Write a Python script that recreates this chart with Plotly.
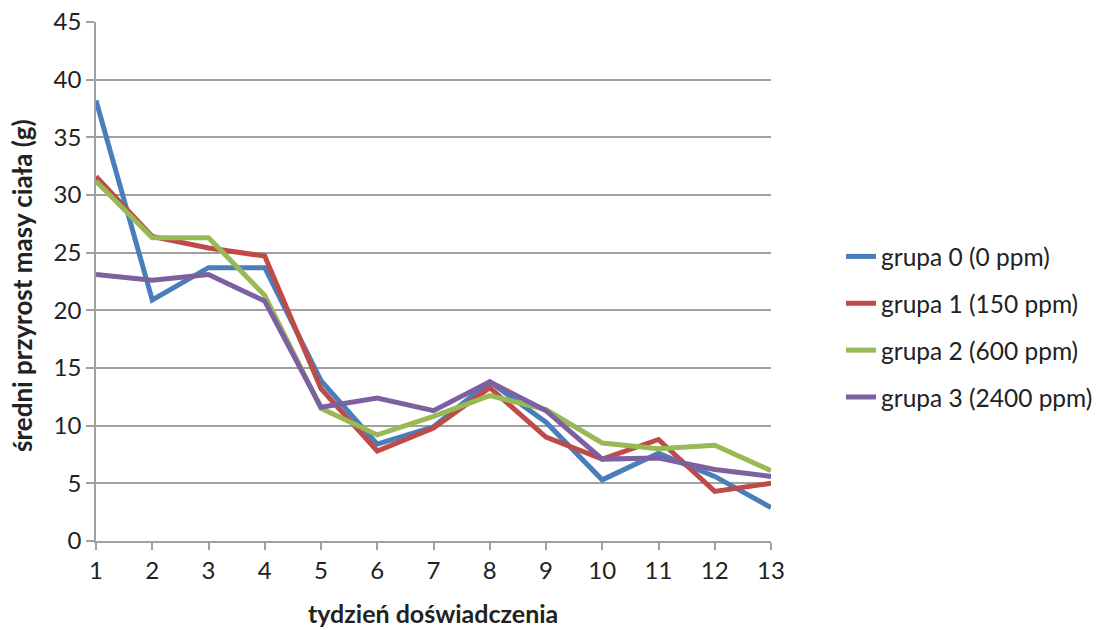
import plotly.graph_objects as go

weeks = list(range(1, 14))
series_names = ["grupa 0 (0 ppm)", "grupa 1 (150 ppm)", "grupa 2 (600 ppm)", "grupa 3 (2400 ppm)"]
grupa0 = [38.2, 20.9, 23.7, 23.7, 13.9, 8.4, 9.9, 13.8, 10.3, 5.3, 7.6, 5.6, 2.9]
grupa1 = [31.6, 26.4, 25.4, 24.7, 13.2, 7.8, 9.8, 13.3, 9.0, 7.1, 8.8, 4.3, 5.0]
grupa2 = [31.2, 26.3, 26.3, 21.3, 11.5, 9.2, 10.8, 12.6, 11.4, 8.5, 8.0, 8.3, 6.1]
grupa3 = [23.1, 22.6, 23.1, 20.8, 11.6, 12.4, 11.3, 13.8, 11.3, 7.1, 7.2, 6.2, 5.6]
colors = ["#4A7EBB", "#BE4B48", "#98B954", "#7D60A0"]
y_ticks = [0, 5, 10, 15, 20, 25, 30, 35, 40, 45]

FONT = "Lato, Carlito, 'Open Sans', sans-serif"
FS = 24

W, H = 1099, 630
PL, PR, PT, PB = 96, 771, 22, 541  # plot area in page pixels
L, R, T, B = PL, W - PR, PT, H - PB
PW = PR - PL
PH = PB - PT

fig = go.Figure()
for i, (name, vals, col) in enumerate(zip(series_names, [grupa0, grupa1, grupa2, grupa3], colors)):
    fig.add_trace(go.Scatter(x=weeks, y=vals, mode="lines", name=name, legendgroup=f"g{i}",
                             line=dict(color=col, width=5)))

fig.update_layout(
    width=W, height=H,
    margin=dict(l=L, r=R, t=T, b=B, autoexpand=False),
    paper_bgcolor="white", plot_bgcolor="white",
    font=dict(family=FONT, size=FS, color="#222222"),
    showlegend=True,
    legend=dict(x=(841 - PL) / PW, y=(PB - 327) / PH, xanchor="left", yanchor="middle",
                font=dict(size=24.5), tracegroupgap=12,
                bgcolor="rgba(0,0,0,0)"),
    xaxis=dict(range=[1, 13], tickvals=weeks, showgrid=False, automargin=False,
               showline=True, linecolor="#A0A0A0", linewidth=1.5,
               ticks="outside", ticklen=7, tickcolor="#A0A0A0", tickwidth=1.5,
               tickfont=dict(size=FS, family=FONT), zeroline=False),
    yaxis=dict(range=[0, 45], tickvals=y_ticks, showgrid=True, gridcolor="#A0A0A0", gridwidth=1.5,
               showline=True, linecolor="#A0A0A0", linewidth=1.5, automargin=False,
               ticks="outside", ticklen=8, tickcolor="#A0A0A0", tickwidth=1.5,
               tickfont=dict(size=FS, family=FONT), zeroline=False),
    annotations=[
        dict(text="<b>tydzień doświadczenia</b>", xref="paper", yref="paper",
             x=(433 - PL) / PW, y=-(613 - PB) / PH, xanchor="center", yanchor="middle",
             showarrow=False, font=dict(size=25, family=FONT, color="#222222")),
        dict(text="<b>średni przyrost masy ciała (g)</b>", xref="paper", yref="paper",
             x=(22 - PL) / PW, y=(PB - 286) / PH, xanchor="center", yanchor="middle", textangle=-90,
             showarrow=False, borderpad=0, font=dict(size=26, family=FONT, color="#222222")),
    ],
)

fig.write_html("out.html", config={"displayModeBar": False},
               post_script="document.body.style.margin='0';document.body.style.overflow='hidden';")
